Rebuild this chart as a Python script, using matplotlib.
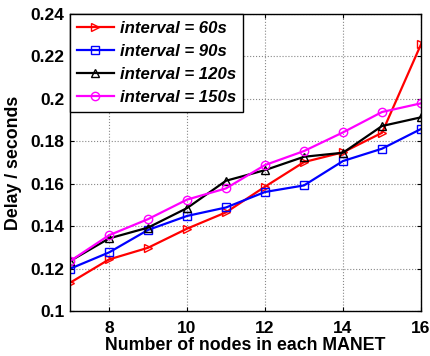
import numpy as np
import matplotlib
matplotlib.use('Agg')
import matplotlib.pyplot as plt

plt.rcParams['font.family'] = ['Liberation Sans', 'DejaVu Sans']
plt.rcParams['font.weight'] = 'bold'

# data
nodes = [7, 8, 9, 10, 11, 12, 13, 14, 15, 16]
delay60 = [0.1133, 0.1243, 0.1298, 0.1388, 0.1465, 0.1586, 0.1702, 0.1748, 0.1840, 0.2257]
delay90 = [0.1199, 0.1276, 0.1382, 0.1448, 0.1488, 0.1561, 0.1592, 0.1707, 0.1765, 0.1858]
delay120 = [0.1235, 0.1342, 0.1393, 0.1485, 0.1614, 0.1664, 0.1727, 0.1746, 0.1872, 0.1913]
delay150 = [0.1235, 0.1357, 0.1433, 0.1525, 0.1578, 0.1688, 0.1754, 0.1842, 0.1938, 0.1979]
labels = ['interval = 60s', 'interval = 90s', 'interval = 120s', 'interval = 150s']
xticks = [8, 10, 12, 14, 16]
yticks = [0.1, 0.12, 0.14, 0.16, 0.18, 0.2, 0.22, 0.24]
yticklabels = ['0.1', '0.12', '0.14', '0.16', '0.18', '0.2', '0.22', '0.24']

fig = plt.figure(figsize=(4.3, 3.56), dpi=100)
ax = fig.add_axes([70/430, 1 - 311/356, 351/430, 297/356])#[x0, y0, w, h]

series = [(delay60, '#ff0000', '>'), (delay90, '#0000ff', 's'),
          (delay120, '#000000', '^'), (delay150, '#ff00ff', 'o')]
for (vals, col, mk), lab in zip(series, labels):
    ax.plot(nodes, vals, color=col, marker=mk, markerfacecolor='none',
            markeredgecolor=col, markersize=6, linewidth=1.6, label=lab)

ax.set_xlim(7, 16)
ax.set_ylim(0.1, 0.24)
ax.set_xticks(xticks)
ax.set_yticks(yticks)
ax.set_yticklabels(yticklabels)
ax.tick_params(direction='in', top=True, right=True, labelsize=12.5, length=3, width=0.8, pad=4)
ax.tick_params(axis='x', pad=7)
for lbl in ax.get_xticklabels() + ax.get_yticklabels():
    lbl.set_fontweight('bold')
ax.grid(True, linestyle=':', color='#888888', linewidth=0.8)
for s in ax.spines.values():
    s.set_linewidth(1.0)

ax.set_xlabel('Number of nodes in each MANET', fontsize=12.8, fontweight='bold', labelpad=1)
ax.set_ylabel('Delay / seconds', fontsize=12.8, fontweight='bold', labelpad=6)

leg = ax.legend(loc='upper left', borderaxespad=0, fancybox=False, framealpha=1,
                edgecolor='k', prop={'size': 12.1, 'weight': 'bold', 'style': 'italic'},
                handlelength=2.2, handletextpad=0.35, labelspacing=0.48, borderpad=0.4,
                markerscale=1)
leg.get_frame().set_linewidth(1.0)

fig.savefig('out.png', dpi=100)
